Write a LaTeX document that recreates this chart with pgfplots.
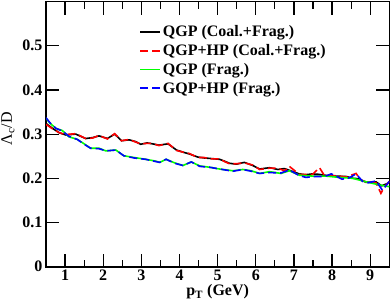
\documentclass[border=0pt]{standalone}
\usepackage{fontspec}
\setmainfont{Liberation Serif}
\usepackage{pgfplots}
\pgfplotsset{compat=1.18}
\definecolor{lgreen}{rgb}{0,1,0}
\begin{document}
\begin{tikzpicture}
\begin{axis}[
  name=ax,
  scale only axis,
  width=343.3pt, height=265.2pt,
  xmin=0.5, xmax=9.5, ymin=0, ymax=0.6,
  xtick={1,2,3,4,5,6,7,8,9},
  minor xtick={1.5,2.5,3.5,4.5,5.5,6.5,7.5,8.5},
  ytick={0,0.1,0.2,0.3,0.4,0.5},
  tick align=inside,
  major tick length=13pt, minor tick length=7pt,
  every tick/.style={black, line width=1.2pt},
  axis line style={line width=1.6pt},
  ticklabel style={font=\fontsize{16}{18}\selectfont\bfseries},
  /pgf/number format/assume math mode=true,
  yticklabel style={/pgf/number format/fixed,/pgf/number format/precision=1},
  xlabel={\fontsize{16}{18}\selectfont\bfseries p\textsubscript{T} (GeV)},
  ylabel={\fontsize{16}{18}\selectfont Λ\textsubscript{c}/D},
  every axis x label/.style={at={(axis description cs:0.5,-0.094)},anchor=center},
  every axis y label/.style={at={(axis description cs:-0.111,0.52)},rotate=90,anchor=center},
  legend style={draw=none, fill=none, at={(0.262,0.925)}, anchor=north west,
    font=\fontsize{16}{18}\selectfont\bfseries, row sep=2.2pt,
    /tikz/every even column/.append style={column sep=0pt}},
  legend cell align=left,
  legend image code/.code={\draw[#1, line width=1.8pt] (0pt,0pt) -- (20pt,0pt);},
]
\addplot[black, line width=1.6pt] coordinates {
(0.5,0.324) (0.67,0.313) (0.85,0.303) (1.02,0.298) (1.28,0.300) (1.54,0.290) (1.72,0.292) (1.89,0.296) (2.11,0.290) (2.30,0.300) (2.48,0.285) (2.68,0.287) (2.85,0.283) (2.98,0.277) (3.15,0.280) (3.29,0.278) (3.46,0.275) (3.70,0.278) (3.92,0.264) (4.10,0.259) (4.26,0.255) (4.48,0.248) (4.65,0.246) (4.79,0.245) (5.05,0.243) (5.20,0.238) (5.31,0.234) (5.49,0.232) (5.70,0.236) (5.92,0.229) (6.10,0.221) (6.36,0.224) (6.58,0.220) (6.75,0.222) (6.88,0.218) (7.14,0.210) (7.30,0.208) (7.49,0.210) (7.65,0.209) (7.80,0.207) (8.10,0.205) (8.37,0.204) (8.55,0.200) (8.70,0.199) (8.89,0.191) (9.15,0.192) (9.30,0.183) (9.50,0.190)
};
\addlegendentry{QGP (Coal.+Frag.)}
\addplot[red, line width=1.6pt, dash pattern=on 8pt off 4pt] coordinates {
(0.5,0.322) (0.67,0.312) (0.85,0.303) (1.02,0.299) (1.28,0.301) (1.54,0.290) (1.72,0.291) (1.89,0.297) (2.11,0.289) (2.30,0.301) (2.48,0.285) (2.68,0.288) (2.85,0.282) (2.98,0.278) (3.15,0.279) (3.29,0.279) (3.46,0.274) (3.70,0.279) (3.92,0.263) (4.10,0.259) (4.26,0.256) (4.48,0.247) (4.65,0.247) (4.79,0.244) (5.05,0.244) (5.20,0.237) (5.31,0.233) (5.49,0.233) (5.70,0.235) (5.92,0.230) (6.10,0.220) (6.36,0.223) (6.58,0.223) (6.75,0.217) (6.88,0.227) (7.14,0.209) (7.30,0.209) (7.49,0.209) (7.67,0.224) (7.80,0.206) (8.10,0.206) (8.37,0.203) (8.63,0.211) (8.75,0.196) (8.89,0.192) (9.15,0.190) (9.28,0.166) (9.37,0.180) (9.50,0.193)
};
\addlegendentry{QGP+HP (Coal.+Frag.)}
\addplot[lgreen, line width=1.6pt] coordinates {
(0.5,0.336) (0.6,0.325) (0.76,0.313) (0.93,0.308) (1.10,0.294) (1.32,0.288) (1.50,0.278) (1.67,0.268) (1.89,0.268) (2.07,0.262) (2.33,0.264) (2.54,0.251) (2.81,0.247) (3.11,0.243) (3.37,0.239) (3.48,0.236) (3.65,0.243) (3.87,0.235) (4.09,0.229) (4.31,0.237) (4.53,0.228) (4.79,0.225) (5.05,0.221) (5.40,0.217) (5.66,0.220) (5.88,0.217) (6.10,0.211) (6.36,0.215) (6.66,0.211) (6.88,0.217) (7.14,0.207) (7.49,0.205) (7.84,0.205) (8.19,0.202) (8.54,0.200) (8.89,0.192) (9.24,0.185) (9.50,0.181)
};
\addlegendentry{QGP (Frag.)}
\addplot[blue, line width=1.6pt, dash pattern=on 8pt off 4pt] coordinates {
(0.5,0.337) (0.6,0.326) (0.76,0.313) (0.93,0.307) (1.10,0.295) (1.32,0.288) (1.50,0.277) (1.67,0.268) (1.89,0.267) (2.07,0.262) (2.33,0.264) (2.54,0.251) (2.81,0.246) (3.11,0.243) (3.37,0.238) (3.48,0.236) (3.65,0.243) (3.87,0.234) (4.09,0.229) (4.31,0.237) (4.53,0.227) (4.79,0.225) (5.05,0.221) (5.40,0.216) (5.66,0.220) (5.88,0.216) (6.10,0.211) (6.36,0.213) (6.66,0.212) (6.88,0.219) (7.14,0.206) (7.32,0.202) (7.49,0.204) (7.80,0.204) (7.98,0.210) (8.26,0.198) (8.45,0.201) (8.63,0.210) (8.80,0.193) (8.95,0.190) (9.15,0.194) (9.32,0.173) (9.50,0.193)
};
\addlegendentry{GQP+HP (Frag.)}
\end{axis}
\pgfresetboundingbox
\path ([shift={(-46pt,-37.3pt)}]ax.south west) rectangle ([shift={(1.7pt,1.5pt)}]ax.north east);
\end{tikzpicture}
\end{document}
